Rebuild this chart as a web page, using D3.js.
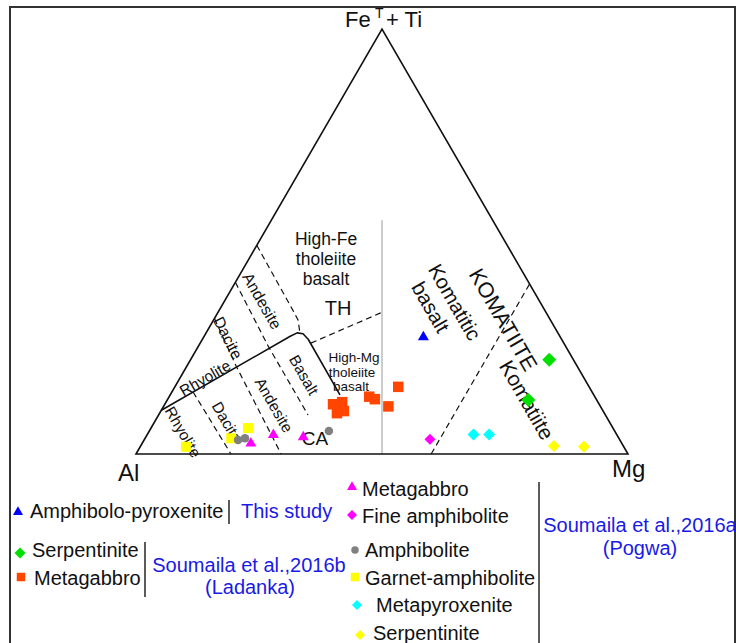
<!DOCTYPE html>
<meta charset="utf-8">
<html>
<body style="margin:0;background:#fff">
<script src="https://d3js.org/d3.v7.min.js"></script>
<script>
// ternary values are [Al, FeT+Ti, Mg] cation %

// field boundaries
var thCaBoundary = [[89.7, 10.3, 0], [54.8, 27.7, 17.5], [53.0, 28.5, 18.5], [51.9, 28.3, 19.8], [51.5, 27.0, 21.5], [51.6, 13.9, 34.5]];
var andesiteHfeLine = [[50.9, 49.1, 0], [51.1, 39.2, 9.7], [51.2, 33.8, 15.0], [51.3, 31.5, 17.2], [52.4, 28.6, 19.0]];
var boundaryAl60 = [[59.6, 40.4, 0], [60.5, 25.4, 14.2], [60.5, 9.2, 30.4]];
var boundaryAl69 = [[68.1, 31.9, 0], [69.3, 20.7, 10.0], [70.5, 0, 29.5]];
var boundaryAl81 = [[81.1, 14.6, 4.3], [80.7, 0, 19.3]];
var hftHmtLine = [[51.4, 26.1, 22.5], [33.3, 33.3, 33.3]];
var komatiiteLine = [[40, 0, 60], [0, 40, 60]];
var thKomLine = [[50, 0, 50], [22.5, 55, 22.5]];

// samples
var amphPyroxenite = [[27.8, 27.5, 44.6]];
var ladankaSerpentinite = [[4.9, 22.2, 72.9], [13.9, 12.7, 73.4]];
var ladankaMetagabbro = [[54.1, 11.7, 34.2], [52.0, 12.2, 35.8], [54.3, 9.6, 36.0], [52.7, 10.1, 37.2], [53.0, 11.0, 36.0],
  [45.9, 13.5, 40.7], [45.0, 12.9, 42.1], [43.1, 11.2, 45.7], [38.8, 15.8, 45.4]];
var pogwaMetagabbro = [[75.4, 2.5, 22.1], [69.9, 4.5, 25.7], [64.0, 4.0, 32.0]];
var pogwaFineAmph = [[38.5, 3.5, 58.0]];
var pogwaAmphibolite = [[77.6, 3.3, 19.1], [76.0, 3.7, 20.3], [58.1, 5.4, 36.5]];
var pogwaGarnetAmph = [[89.0, 1.7, 9.3], [78.8, 3.7, 17.5], [74.2, 6.1, 19.7]];
var pogwaMetapyroxenite = [[29.1, 4.6, 66.3], [25.9, 4.6, 69.4]];
var pogwaSerpentinite = [[14.1, 1.9, 84.0], [8.1, 1.7, 90.2]];

var font = "'Liberation Sans', Arial, sans-serif";

var svg = d3.select("body").append("svg")
  .attr("width", 736).attr("height", 643)
  .style("display", "block");

// frame
svg.append("rect").attr("x", 10).attr("y", 7).attr("width", 725).attr("height", 700)
  .attr("fill", "none").attr("stroke", "#333").attr("stroke-width", 2);

// ternary projection
var px = d3.scaleLinear().domain([0, 100]).range([136, 628]);
var py = d3.scaleLinear().domain([0, 100]).range([454, 29]);
function tern(d) {
  var s = d[0] + d[1] + d[2];
  var fe = d[1] / s * 100, mg = d[2] / s * 100;
  return [px(mg + fe / 2), py(fe)];
}
var line = d3.line().x(function (d) { return tern(d)[0]; }).y(function (d) { return tern(d)[1]; });

var plot = svg.append("g");

// thin grey line TH / komatiitic
plot.append("path").attr("d", line(thKomLine))
  .attr("fill", "none").attr("stroke", "#aaa").attr("stroke-width", 1.2);

// triangle
plot.append("path").attr("d", line([[100, 0, 0], [0, 100, 0], [0, 0, 100]]) + "Z")
  .attr("fill", "none").attr("stroke", "#111").attr("stroke-width", 1.6);

// solid TH/CA boundary
plot.append("path").attr("d", line(thCaBoundary))
  .attr("fill", "none").attr("stroke", "#111").attr("stroke-width", 1.6)
  .attr("stroke-linejoin", "round");

// dashed boundaries
[andesiteHfeLine, boundaryAl60, boundaryAl69, boundaryAl81, hftHmtLine, komatiiteLine].forEach(function (l) {
  plot.append("path").attr("d", line(l))
    .attr("fill", "none").attr("stroke", "#111").attr("stroke-width", 1.2)
    .attr("stroke-dasharray", "6,4");
});

// field labels
function label(t, x, y, size, rot) {
  plot.append("text").text(t)
    .attr("transform", "translate(" + x + "," + y + ") rotate(" + (rot || 0) + ")")
    .attr("text-anchor", "middle").attr("dominant-baseline", "central")
    .style("font-family", font).style("font-size", size + "px").attr("fill", "#111");
}
label("High-Fe", 326, 239, 17.5);
label("tholeiite", 326, 259, 17.5);
label("basalt", 326, 279, 17.5);
label("TH", 338, 308, 20);
label("High-Mg", 354, 357, 13.5);
label("tholeiite", 352, 372, 13.5);
label("basalt", 351, 386, 13.5);
label("CA", 315, 438, 19);
label("Andesite", 262, 301, 16, 60);
label("Dacite", 228, 338, 16, 63);
label("Rhyolite", 205, 378, 15.5, -30);
label("Rhyolite", 183, 432, 15.5, 60);
label("Dacite", 227, 422, 15.5, 60);
label("Andesite", 274, 405, 15.5, 60);
label("Basalt", 304, 375, 15.5, 60);
label("Komatitic", 455, 302, 20.5, 60);
label("basalt", 431, 307, 20.5, 60);
label("KOMATIITE", 503, 320, 21.5, 60);
label("Komatiite", 527, 400, 21, 60);

// apex labels
var apex = svg.append("text").attr("y", 27).style("font-family", font).style("font-size", "22px").attr("fill", "#111");
apex.append("tspan").attr("x", 345).text("Fe");
apex.append("tspan").attr("x", 375).attr("y", 18).style("font-size", "14px").text("T");
apex.append("tspan").attr("x", 386).attr("y", 27).text("+ Ti");
svg.append("text").attr("x", 118).attr("y", 481).text("Al")
  .style("font-family", font).style("font-size", "24px").attr("fill", "#111");
svg.append("text").attr("x", 612).attr("y", 477).text("Mg")
  .style("font-family", font).style("font-size", "24px").attr("fill", "#111");

// marker styles
function diamond(s) {
  var h = s / 2;
  return "M0," + (-h) + "L" + h + ",0L0," + h + "L" + (-h) + ",0Z";
}
function markerPath(shape, s) {
  if (shape === "diamond") return diamond(s);
  if (shape === "triangle") return d3.symbol(d3.symbolTriangle, s * s * 0.433)();
  if (shape === "square") return d3.symbol(d3.symbolSquare, s * s)();
  return d3.symbol(d3.symbolCircle, Math.PI * s * s / 4)();
}

var series = [
  { data: pogwaGarnetAmph, shape: "square", color: "#ffff00", size: 10 },
  { data: pogwaAmphibolite, shape: "circle", color: "#808080", size: 8.5 },
  { data: pogwaMetagabbro, shape: "triangle", color: "#ff00ff", size: 11 },
  { data: pogwaFineAmph, shape: "diamond", color: "#ff00ff", size: 11 },
  { data: pogwaMetapyroxenite, shape: "diamond", color: "#00ffff", size: 12 },
  { data: pogwaSerpentinite, shape: "diamond", color: "#ffff00", size: 12 },
  { data: ladankaMetagabbro, shape: "square", color: "#ff4500", size: 10.5 },
  { data: ladankaSerpentinite, shape: "diamond", color: "#00e000", size: 14 },
  { data: amphPyroxenite, shape: "triangle", color: "#0000ff", size: 11 }
];
series.forEach(function (s) {
  plot.selectAll(null).data(s.data).enter().append("path")
    .attr("d", markerPath(s.shape, s.size))
    .attr("transform", function (d) { var p = tern(d); return "translate(" + p[0] + "," + p[1] + ")"; })
    .attr("fill", s.color);
});

// legend
var legendNames = ["Amphibolo-pyroxenite", "Serpentinite", "Metagabbro",
  "Metagabbro", "Fine amphibolite", "Amphibolite", "Garnet-amphibolite", "Metapyroxenite", "Serpentinite"];
var legendSources = ["This study", "Soumaila et al.,2016b", "(Ladanka)", "Soumaila et al.,2016a", "(Pogwa)"];

var legendItems = [
  { name: legendNames[0], shape: "triangle", color: "#0000ff", size: 10, mx: 18, my: 512, tx: 30, ty: 518 },
  { name: legendNames[1], shape: "diamond", color: "#00e000", size: 11, mx: 20, my: 553, tx: 32, ty: 557 },
  { name: legendNames[2], shape: "square", color: "#ff4500", size: 8.5, mx: 21, my: 577, tx: 34, ty: 585 },
  { name: legendNames[3], shape: "triangle", color: "#ff00ff", size: 10, mx: 352, my: 487, tx: 362, ty: 496 },
  { name: legendNames[4], shape: "diamond", color: "#ff00ff", size: 10, mx: 352, my: 515, tx: 362, ty: 523 },
  { name: legendNames[5], shape: "circle", color: "#808080", size: 7.5, mx: 355, my: 550, tx: 365, ty: 557 },
  { name: legendNames[6], shape: "square", color: "#ffff00", size: 8.5, mx: 355, my: 577, tx: 365, ty: 585 },
  { name: legendNames[7], shape: "diamond", color: "#00ffff", size: 10, mx: 357, my: 605, tx: 376, ty: 612 },
  { name: legendNames[8], shape: "diamond", color: "#ffff00", size: 10, mx: 360, my: 635, tx: 373, ty: 640 }
];
var legend = svg.append("g");
legendItems.forEach(function (d) {
  legend.append("path").attr("d", markerPath(d.shape, d.size))
    .attr("transform", "translate(" + d.mx + "," + d.my + ")").attr("fill", d.color);
  legend.append("text").attr("x", d.tx).attr("y", d.ty).text(d.name)
    .style("font-family", font).style("font-size", "20px").attr("fill", "#111");
});

var srcPos = [[241, 518, "start"], [249, 572, "middle"], [250, 594, "middle"], [640, 532, "middle"], [640, 555, "middle"]];
legendSources.forEach(function (t, i) {
  legend.append("text").attr("x", srcPos[i][0]).attr("y", srcPos[i][1]).text(t)
    .attr("text-anchor", srcPos[i][2])
    .style("font-family", font).style("font-size", "20px").attr("fill", "#1a1ae6");
});

// separators
[[229, 500, 524], [145, 542, 597], [539, 482, 660]].forEach(function (v) {
  legend.append("line").attr("x1", v[0]).attr("x2", v[0]).attr("y1", v[1]).attr("y2", v[2])
    .attr("stroke", "#333").attr("stroke-width", 1.6);
});
</script>
</body>
</html>
